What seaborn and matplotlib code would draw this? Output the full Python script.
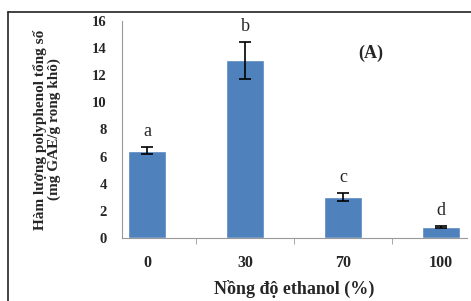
import matplotlib
matplotlib.use("Agg")
import matplotlib.pyplot as plt
import seaborn as sns
import pandas as pd
from matplotlib.lines import Line2D

# Data
concentrations = ["0", "30", "70", "100"]
polyphenol = [6.45, 13.1, 3.0, 0.82]
errors = [0.25, 1.35, 0.3, 0.05]
letters = ["a", "b", "c", "d"]

data = pd.DataFrame({"Ethanol": concentrations, "TPC": polyphenol})

sns.set_style("white")
plt.rcParams["font.family"] = ["Liberation Serif", "DejaVu Serif"]

fig = plt.figure(figsize=(4.71, 3.01), dpi=100)
ax = fig.add_axes([122 / 471, 1 - 238 / 301, 345 / 471, 217 / 301])

sns.barplot(data=data, x="Ethanol", y="TPC", color="#4F81BD", saturation=1,
            width=0.39, ax=ax, errorbar=None)
ax.errorbar(range(len(polyphenol)), polyphenol, yerr=errors, fmt="none",
            ecolor="black", elinewidth=1.2, capsize=4, capthick=1.2)

# significance letters
for i, (v, e, t) in enumerate(zip(polyphenol, errors, letters)):
    ax.text(i, v + e + 0.55, t, ha="center", va="bottom", fontsize=13)

ax.text(0.722, 0.853, "(A)", transform=ax.transAxes, fontsize=13,
        fontweight="bold", ha="center", va="center")

ax.set_ylim(0, 16)
ax.set_xlim(-0.26, 3.27)
ax.set_yticks(range(0, 17, 2))
ax.set_xticks([0.5, 1.5, 2.5], minor=True)
ax.tick_params(axis="x", which="major", length=0, labelsize=11.5, pad=12)
ax.tick_params(axis="x", which="minor", length=4, color="#999999", direction="out")
ax.tick_params(axis="y", length=4, color="#999999", direction="out", labelsize=10.5, pad=7)
ax.xaxis.set_tick_params(which="minor", bottom=True)
for lab in ax.get_xticklabels() + ax.get_yticklabels():
    lab.set_fontweight("bold")

for side in ["top", "right"]:
    ax.spines[side].set_visible(False)
for side in ["left", "bottom"]:
    ax.spines[side].set_color("#999999")
    ax.spines[side].set_linewidth(0.8)

ax.set_xlabel("Nồng độ ethanol (%)", fontsize=13, fontweight="bold", labelpad=7)
ax.set_ylabel("Hàm lượng polyphenol tổng số\n(mg GAE/g rong khô)", fontsize=11,
              fontweight="bold", labelpad=22, linespacing=1.05)

# outer frame: left and top edges only
fig.lines.append(Line2D([7.5 / 471, 7.5 / 471], [0, 1 - 11.5 / 301],
                        transform=fig.transFigure, color="#222222", linewidth=1.2))
fig.lines.append(Line2D([7.5 / 471, 1], [1 - 11.5 / 301, 1 - 11.5 / 301],
                        transform=fig.transFigure, color="#222222", linewidth=1.2))

fig.savefig("out.png", dpi=100)
